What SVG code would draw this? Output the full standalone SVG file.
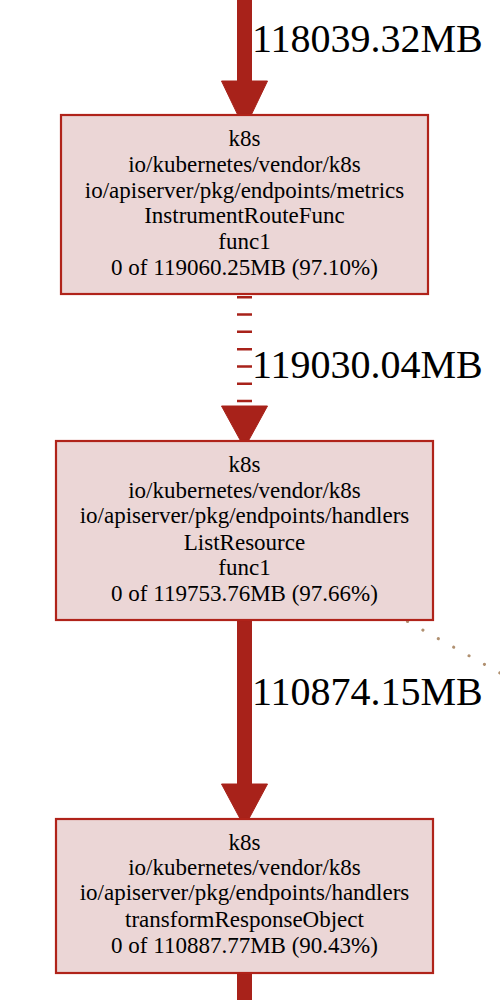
<svg xmlns="http://www.w3.org/2000/svg" width="500" height="1000" viewBox="0 0 500 1000">
<style>
.box{fill:#ebd6d6;stroke:#b0231a;stroke-width:2.2}
.t{font-family:"Liberation Serif","Times New Roman",serif;font-size:23px;fill:#000;text-anchor:middle}
.lbl{font-family:"Liberation Serif","Times New Roman",serif;font-size:40px;fill:#000}
.shaft{stroke:#a8221a;stroke-width:15;fill:none}
.head{fill:#a8221a;stroke:#a8221a;stroke-width:1}
</style>
<rect width="500" height="1000" fill="#fff"/>
<g id="connectors">
  <line class="shaft" x1="244.5" y1="0" x2="244.5" y2="82"/>
  <polygon class="head" points="221.5,81 267.5,81 244.5,129"/>
  <text class="lbl" x="252" y="52">118039.32MB</text>

  <line class="shaft" x1="244.5" y1="296" x2="244.5" y2="404" stroke-dasharray="2.5,14.8"/>
  <polygon class="head" points="221.5,406 267.5,406 244.5,448"/>
  <text class="lbl" x="252" y="378">119030.04MB</text>

  <line x1="407.5" y1="621.5" x2="500" y2="673" stroke="#b09070" stroke-width="3" stroke-linecap="round" stroke-dasharray="0.1,17.5"/>

  <line class="shaft" x1="244.5" y1="620" x2="244.5" y2="785"/>
  <polygon class="head" points="221.5,784 267.5,784 244.5,827"/>
  <text class="lbl" x="252" y="705">110874.15MB</text>

  <line class="shaft" x1="244.5" y1="973" x2="244.5" y2="1000"/>
</g>
<g id="node1">
  <rect class="box" x="61" y="115" width="367" height="179"/>
  <text class="t" x="244.5" y="146">k8s</text>
  <text class="t" x="244.5" y="172">io/kubernetes/vendor/k8s</text>
  <text class="t" x="244.5" y="198">io/apiserver/pkg/endpoints/metrics</text>
  <text class="t" x="244.5" y="223">InstrumentRouteFunc</text>
  <text class="t" x="244.5" y="249">func1</text>
  <text class="t" x="244.5" y="275">0 of 119060.25MB (97.10%)</text>
</g>
<g id="node2">
  <rect class="box" x="56" y="441" width="377" height="179"/>
  <text class="t" x="244.5" y="472">k8s</text>
  <text class="t" x="244.5" y="498">io/kubernetes/vendor/k8s</text>
  <text class="t" x="244.5" y="523">io/apiserver/pkg/endpoints/handlers</text>
  <text class="t" x="244.5" y="550">ListResource</text>
  <text class="t" x="244.5" y="575">func1</text>
  <text class="t" x="244.5" y="601">0 of 119753.76MB (97.66%)</text>
</g>
<g id="node3">
  <rect class="box" x="56" y="819" width="377" height="154"/>
  <text class="t" x="244.5" y="850">k8s</text>
  <text class="t" x="244.5" y="875">io/kubernetes/vendor/k8s</text>
  <text class="t" x="244.5" y="900">io/apiserver/pkg/endpoints/handlers</text>
  <text class="t" x="244.5" y="927">transformResponseObject</text>
  <text class="t" x="244.5" y="953">0 of 110887.77MB (90.43%)</text>
</g>
</svg>
